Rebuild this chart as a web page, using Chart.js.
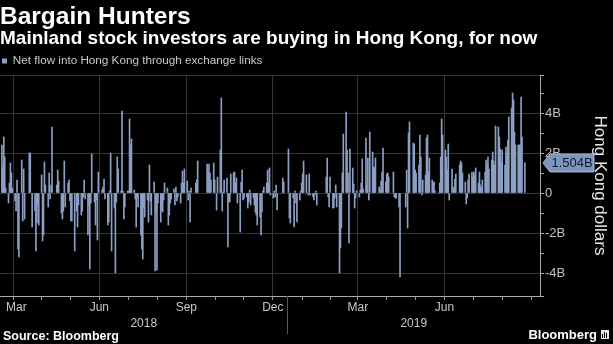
<!DOCTYPE html>
<html>
<head>
<meta charset="utf-8">
<script src="https://cdn.jsdelivr.net/npm/chart.js@4.4.1/dist/chart.umd.min.js"></script>
<style>
  html, body { margin: 0; padding: 0; background: #000; }
  canvas { display: block; }
</style>
</head>
<body>
<canvas id="myChart" width="613" height="344"></canvas>
<script>
'use strict';

// net southbound flow, billions HKD, one value per trading day
// Mar 5 - Sep 7 2018
const flowA = [
  2.4, 1.3, 2.8, 1.8, 0.25, -0.5, 0.5, 1.5, 1.0, 0.25,
  -0.4, -0.9, 0.65, -2.8, -3.2, 1.65, -1.4, 1.2, -1.3, 2.0,
  2.0, -1.7, -0.9, -2.9, -1.5, -0.6, -1.6, 0.9, -2.4, -2.1,
  1.55, 0.4, -0.7, 1.0, -0.3, 0.4, 3.3, 0.4, 1.15, 0.6,
  -1.0, -1.3, -0.9, 1.6, -0.7, 0.5, 0.65, -0.4, -1.4, -1.4,
  -2.9, -0.9, -1.7, -0.6, -1.1, -0.9, -0.2, 0.65, -0.3, -2.1,
  -0.6, -3.8, -0.5, 1.95, -0.45, -1.6, -0.35, -2.35, 1.05, 0.15,
  0.3, 0.7, -0.3, -1.6, -1.45, 0.1, 2.0, -2.9, -0.75, -4.0,
  -0.45, 1.8, 1.2, 0.1, 4.1, 0.1, -1.3, -0.7, 0.1, 0.1,
  3.7, 2.4, 2.7, 0.15, -0.3, -1.7, -0.2, -0.7, -2.1, -2.8,
  -3.3, -0.75, -1.2, -0.35, -1.45, 1.4, -0.4, -1.1, 0.55, -3.9,
  -0.9, -3.85, -0.5, -1.45, -0.85, -0.95, -0.35, 0.5, 0.25, -1.6,
  -1.1, -0.5, -0.3, 0.2, -0.6, 0.3, -0.4, -0.2
];
// Sep 10 2018 - Mar 15 2019
const flowB = [
  -0.5, 0.5, 1.1, 0.5, 1.2, 0.6, -0.35, 0.1, -1.45, 0.25,
  0.5, 0.65, 1.6, 1.45, 1.05, 1.45, 1.0, 0.65, 1.5, 0.65,
  -0.85, 0.8, 2.15, 4.75, -0.9, 0.05, 0.65, 0.75, -2.7, -0.45,
  -0.45, 0.95, 1.0, 1.05, 0.5, 0.75, -0.5, -1.95, 0.55, 1.15,
  -0.35, -0.25, -0.2, -0.75, -0.45, 0.15, -0.6, -0.25, -0.6, -0.95,
  -1.1, -1.6, -1.2, -2.1, -0.95, 0.1, 0.3, 0.5, 1.15, 0.5,
  1.25, -0.1, -0.25, 0.1, -0.2, 0.4, -0.85, 0.75, 0.55, 2.2,
  -1.25, -1.5, -0.25, -1.7, 0.1, -0.5, -1.45, -0.35, 0.1, 0.5,
  0.95, 1.6, 0.9, 0.0, -0.1, 0.95, -0.1, -0.2, -0.35, -0.1,
  0.1, -0.6, 0.8, 1.75, -0.2, -0.7, 0.8, -0.75, -0.75, -0.25,
  0.4, -0.7, -4.0, -2.75, -1.75, 1.0, 2.95, 4.05, 2.15, 1.0,
  -2.5, 2.2, 1.25, 0.45, -0.75, -0.25, 0.1
];
// Mar 18 - Sep 9 2019
const flowC = [
  -0.2, 0.15, 0.5, 1.7, 0.2, 2.75, 0.4, 1.75, -0.35, 3.05,
  2.05, 1.3, 1.25, 1.75, 0.3, 0.15, 0.6, 1.05, 2.25, 0.55,
  0.95, 1.0, 0.8, 1.05, -0.2, -0.25, -0.25, -0.7, -4.2, -0.7,
  1.15, -1.75, 3.0, 3.55, 2.5, 2.45, 1.15, 1.0, 1.4, 2.9,
  1.8, -0.1, 0.65, 0.9, 2.75, 2.9, 1.05, 1.75, 0.65, 0.55,
  0.55, 0.1, 0.0, 0.5, 1.8, 3.7, 2.9, 2.15, 1.8, 1.15,
  2.45, -0.35, 1.2, 0.3, 0.15, 0.7, 0.95, 1.4, 1.6, 1.5,
  1.0, 0.55, -0.55, -0.25, 0.65, 0.95, 1.05, 0.8, 1.05, 0.9,
  1.25, 0.5, 1.05, 0.4, 0.25, 0.65, 1.05, 1.65, 1.4, 1.8,
  1.2, 1.65, 2.05, 1.6, 1.4, 3.35, 3.3, 2.8, 2.2, 1.55,
  2.15, 1.4, 2.3, 2.0, 2.65, 3.8, 4.25, 5.0, 4.65, 3.05,
  2.4, 2.4, 2.4, 2.4, 4.8, 2.8, 1.504
];

const firstDay = '2018-03-05';
const closedDays = [
  '2018-03-30', '2018-04-02', '2018-04-05', '2018-04-30', '2018-05-01', '2018-05-22',
  '2018-06-18', '2018-09-24', '2018-09-25', '2018-10-01', '2018-10-02', '2018-10-03',
  '2018-10-04', '2018-10-05', '2018-10-17', '2018-12-24', '2018-12-25', '2018-12-26',
  '2018-12-31', '2019-01-01', '2019-02-04', '2019-02-05', '2019-02-06', '2019-02-07',
  '2019-02-08', '2019-04-05', '2019-04-19', '2019-04-22', '2019-05-01', '2019-05-02',
  '2019-05-03', '2019-05-13', '2019-06-07', '2019-07-01'
];

const axisStart = '2018-03-03';
const axisEnd = '2019-09-25';
const monthTicks = ['2018-04', '2018-05', '2018-06', '2018-07', '2018-08', '2018-09', '2018-10',
  '2018-11', '2018-12', '2019-01', '2019-02', '2019-03', '2019-04', '2019-05', '2019-06',
  '2019-07', '2019-08', '2019-09'];
const gridMonths = ['2018-04', '2018-07', '2018-10', '2019-01', '2019-04', '2019-07'];
const monthLabels = ['Mar', 'Jun', 'Sep', 'Dec', 'Mar', 'Jun'];
const labelMonths = ['2018-03', '2018-06', '2018-09', '2018-12', '2019-03', '2019-06'];
const yearLabels = ['2018', '2019'];
const yearBreak = '2019-01-01';
const yMin = -5.15;
const yMax = 5.9;

function dayNumber(iso) {
  return (Date.parse(iso + 'T00:00:00Z') - Date.parse('2018-01-01T00:00:00Z')) / 86400000;
}

function midMonth(ym) {
  const y = +ym.slice(0, 4), m = +ym.slice(5, 7);
  const len = new Date(Date.UTC(y, m, 0)).getUTCDate();
  return dayNumber(ym + '-01') + len / 2;
}

const flowValues = flowA.concat(flowB, flowC);
const tradingDays = [];
let cursor = new Date(firstDay + 'T00:00:00Z');
while (tradingDays.length < flowValues.length) {
  const iso = cursor.toISOString().slice(0, 10);
  const wd = cursor.getUTCDay();
  if (wd !== 0 && wd !== 6 && !closedDays.includes(iso)) {
    tradingDays.push(iso);
  }
  cursor.setUTCDate(cursor.getUTCDate() + 1);
}

const barData = flowValues.map((v, i) => ({ x: dayNumber(tradingDays[i]), y: v }));
const gridDays = gridMonths.map(m => dayNumber(m + '-01'));

const barColor = '#8c9fc4';
const labelFont = "'Liberation Sans', Arial, sans-serif";

const extrasPlugin = {
  id: 'extras',
  beforeDraw(chart) {
    const c = chart.ctx;
    c.save();
    c.fillStyle = '#000';
    c.fillRect(0, 0, chart.width, chart.height);
    c.restore();
  },
  afterDraw(chart) {
    const c = chart.ctx;
    const xs = chart.scales.x;
    const ys = chart.scales.y;
    const area = chart.chartArea;
    c.save();

    // month labels
    c.font = '12px ' + labelFont;
    c.fillStyle = '#c8c8c8';
    c.textAlign = 'center';
    c.textBaseline = 'alphabetic';
    for (let i = 0; i < monthLabels.length; i++) {
      let px = xs.getPixelForValue(midMonth(labelMonths[i]));
      const w = c.measureText(monthLabels[i]).width;
      px = Math.max(px, area.left + w / 2 + 6);
      c.fillText(monthLabels[i], px, area.bottom + 15);
    }

    // year labels and break line
    const breakPx = xs.getPixelForValue(dayNumber(yearBreak));
    c.fillText(yearLabels[0], (area.left + breakPx) / 2, area.bottom + 31);
    c.fillText(yearLabels[1], (breakPx + area.right) / 2, area.bottom + 31);
    c.strokeStyle = '#5a5a5a';
    c.lineWidth = 1;
    c.beginPath();
    c.moveTo(Math.round(breakPx) + 0.5, area.bottom);
    c.lineTo(Math.round(breakPx) + 0.5, area.bottom + 38);
    c.stroke();

    // last value badge
    const last = flowValues[flowValues.length - 1];
    const by = ys.getPixelForValue(last);
    const bx = area.right + 3;
    c.fillStyle = '#7f95bc';
    c.strokeStyle = '#a9bbd9';
    c.beginPath();
    c.moveTo(bx, by);
    c.lineTo(bx + 7, by - 9);
    c.lineTo(bx + 51, by - 9);
    c.lineTo(bx + 51, by + 9);
    c.lineTo(bx + 7, by + 9);
    c.closePath();
    c.fill();
    c.stroke();
    c.fillStyle = '#0d1a30';
    c.font = '13px ' + labelFont;
    c.textAlign = 'center';
    c.textBaseline = 'middle';
    c.fillText(last.toFixed(3) + 'B', bx + 29, by + 1);

    // footer
    c.textBaseline = 'alphabetic';
    c.textAlign = 'left';
    c.fillStyle = '#fff';
    c.font = 'bold 12.5px ' + labelFont;
    c.fillText('Source: Bloomberg', 3, 340);
    c.textAlign = 'right';
    c.font = 'bold 13px ' + labelFont;
    c.fillText('Bloomberg', 597, 339);
    c.fillStyle = '#e8e8e8';
    c.fillRect(601, 330, 8, 9);
    c.fillStyle = '#000';
    c.fillRect(602, 334, 1, 4);
    c.fillRect(604, 332, 1, 6);
    c.fillRect(606, 333, 1, 5);
    c.restore();
  }
};

const ctx = document.getElementById('myChart');

let mainChart = new Chart(ctx, {
  type: 'bar',
  data: {
    datasets: [{
      label: 'Net flow into Hong Kong through exchange links',
      data: barData,
      backgroundColor: barColor,
      borderWidth: 0,
      barThickness: 1
    }]
  },
  options: {
    responsive: false,
    animation: false,
    layout: { padding: 0 },
    plugins: {
      title: {
        display: true,
        text: 'Bargain Hunters',
        align: 'start',
        color: '#fff',
        font: { family: labelFont, size: 24.5, weight: 'bold', lineHeight: 1.0 },
        padding: { top: 5, bottom: 0 }
      },
      subtitle: {
        display: true,
        text: 'Mainland stock investors are buying in Hong Kong, for now',
        align: 'start',
        color: '#fff',
        font: { family: labelFont, size: 19, weight: 'bold', lineHeight: 1.0 },
        padding: { top: 0, bottom: 4.75 }
      },
      legend: {
        display: true,
        align: 'start',
        maxHeight: 21.75,
        labels: {
          color: '#c8c8c8',
          font: { family: labelFont, size: 11.7 },
          boxWidth: 5,
          boxHeight: 5,
          padding: 2
        }
      },
      tooltip: { enabled: false }
    },
    scales: {
      x: {
        type: 'linear',
        offset: false,
        min: dayNumber(axisStart),
        max: dayNumber(axisEnd),
        afterBuildTicks(scale) {
          scale.ticks = monthTicks.map(m => ({ value: dayNumber(m + '-01') }));
        },
        afterFit(scale) {
          scale.height = 48;
        },
        ticks: { display: false },
        grid: {
          color: (c) => (c.tick && gridDays.includes(c.tick.value)) ? '#363636' : 'rgba(0,0,0,0)',
          tickColor: '#999',
          tickLength: 4,
          drawTicks: true
        },
        border: { display: true, color: '#aaa', width: 1 }
      },
      y: {
        position: 'right',
        min: yMin,
        max: yMax,
        afterFit(scale) {
          scale.width = 73;
        },
        ticks: {
          stepSize: 1,
          color: '#c0c0c0',
          padding: 1,
          font: { family: labelFont, size: 13 },
          callback: (v) => (Number.isInteger(v) && v % 2 === 0) ? (v === 0 ? '0' : v + 'B') : ''
        },
        grid: {
          color: (c) => (c.tick && ((Number.isInteger(c.tick.value) && c.tick.value % 2 === 0) || c.tick.value === yMax)) ? '#363636' : 'rgba(0,0,0,0)',
          tickColor: '#aaa',
          tickLength: 4
        },
        border: { display: true, color: '#aaa', width: 1 },
        title: {
          display: true,
          text: 'Hong Kong dollars',
          color: '#e6e6e6',
          font: { family: labelFont, size: 17 },
          padding: { top: 3, bottom: 0 }
        }
      }
    }
  },
  plugins: [extrasPlugin]
});
</script>
</body>
</html>
